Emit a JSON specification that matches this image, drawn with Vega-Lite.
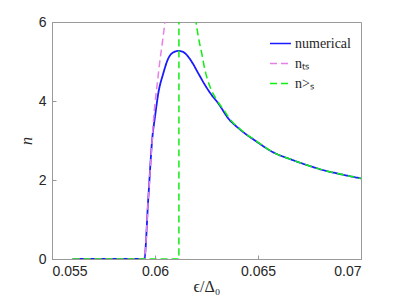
{
  "$schema": "https://vega.github.io/schema/vega-lite/v6.json",
  "width": 309,
  "height": 237,
  "autosize": "none",
  "padding": {"left": 52, "top": 22, "right": 38, "bottom": 40},
  "background": "white",
  "config": {
    "view": {"stroke": "#999999", "strokeWidth": 1},
    "axis": {
      "grid": false,
      "domainColor": "#999999",
      "tickColor": "#999999",
      "labelColor": "#262626",
      "labelFont": "Liberation Sans",
      "labelFontSize": 14,
      "titleColor": "#262626",
      "titleFont": "Liberation Serif",
      "titleFontWeight": "normal",
      "titleFontSize": 16
    }
  },
  "data": {
    "values": [
      {"x": 0.056, "n": 0, "series": "numerical"},
      {"x": 0.05948, "n": 0, "series": "numerical"},
      {"x": 0.059675, "n": 1.54, "series": "numerical"},
      {"x": 0.059869, "n": 3.06, "series": "numerical"},
      {"x": 0.06, "n": 3.6, "series": "numerical"},
      {"x": 0.06016, "n": 4.195, "series": "numerical"},
      {"x": 0.060403, "n": 4.7, "series": "numerical"},
      {"x": 0.060646, "n": 5.08, "series": "numerical"},
      {"x": 0.060888, "n": 5.23, "series": "numerical"},
      {"x": 0.061165, "n": 5.27, "series": "numerical"},
      {"x": 0.061456, "n": 5.21, "series": "numerical"},
      {"x": 0.061782, "n": 4.995, "series": "numerical"},
      {"x": 0.062102, "n": 4.7, "series": "numerical"},
      {"x": 0.062427, "n": 4.405, "series": "numerical"},
      {"x": 0.062752, "n": 4.15, "series": "numerical"},
      {"x": 0.063073, "n": 3.94, "series": "numerical"},
      {"x": 0.063558, "n": 3.56, "series": "numerical"},
      {"x": 0.064126, "n": 3.28, "series": "numerical"},
      {"x": 0.064937, "n": 2.97, "series": "numerical"},
      {"x": 0.065743, "n": 2.7, "series": "numerical"},
      {"x": 0.066553, "n": 2.53, "series": "numerical"},
      {"x": 0.067364, "n": 2.38, "series": "numerical"},
      {"x": 0.06817, "n": 2.25, "series": "numerical"},
      {"x": 0.068981, "n": 2.15, "series": "numerical"},
      {"x": 0.07, "n": 2.04, "series": "numerical"},
      {"x": 0.056, "n": 0, "series": "nₜₛ"},
      {"x": 0.05948, "n": 0, "series": "nₜₛ"},
      {"x": 0.059675, "n": 1.54, "series": "nₜₛ"},
      {"x": 0.059869, "n": 3.06, "series": "nₜₛ"},
      {"x": 0.059917, "n": 3.435, "series": "nₜₛ"},
      {"x": 0.06, "n": 3.94, "series": "nₜₛ"},
      {"x": 0.060112, "n": 4.45, "series": "nₜₛ"},
      {"x": 0.060243, "n": 5.04, "series": "nₜₛ"},
      {"x": 0.060374, "n": 5.54, "series": "nₜₛ"},
      {"x": 0.060485, "n": 6.01, "series": "nₜₛ"},
      {"x": 0.060607, "n": 6.53, "series": "nₜₛ"},
      {"x": 0.056, "n": 0, "series": "n>ₛ"},
      {"x": 0.06116, "n": 0, "series": "n>ₛ"},
      {"x": 0.061165, "n": 40, "series": "n>ₛ"},
      {"x": 0.0619, "n": 6.4, "series": "n>ₛ"},
      {"x": 0.06199, "n": 6.01, "series": "n>ₛ"},
      {"x": 0.062102, "n": 5.63, "series": "n>ₛ"},
      {"x": 0.062267, "n": 5.21, "series": "n>ₛ"},
      {"x": 0.062427, "n": 4.78, "series": "n>ₛ"},
      {"x": 0.06267, "n": 4.36, "series": "n>ₛ"},
      {"x": 0.062995, "n": 4.03, "series": "n>ₛ"},
      {"x": 0.063398, "n": 3.73, "series": "n>ₛ"},
      {"x": 0.063641, "n": 3.54, "series": "n>ₛ"},
      {"x": 0.064126, "n": 3.29, "series": "n>ₛ"},
      {"x": 0.064937, "n": 2.98, "series": "n>ₛ"},
      {"x": 0.065743, "n": 2.7, "series": "n>ₛ"},
      {"x": 0.066553, "n": 2.53, "series": "n>ₛ"},
      {"x": 0.067364, "n": 2.38, "series": "n>ₛ"},
      {"x": 0.06817, "n": 2.25, "series": "n>ₛ"},
      {"x": 0.068981, "n": 2.15, "series": "n>ₛ"},
      {"x": 0.07, "n": 2.04, "series": "n>ₛ"}
    ]
  },
  "encoding": {
    "x": {
      "field": "x", "type": "quantitative",
      "scale": {"domain": [0.055, 0.07], "nice": false, "zero": false},
      "axis": {"values": [0.055, 0.06, 0.065, 0.07], "format": ".3~f", "tickSize": -4, "labelPadding": 9, "title": "ϵ/Δ₀", "titlePadding": 0}
    },
    "y": {
      "field": "n", "type": "quantitative",
      "scale": {"domain": [0, 6], "nice": false},
      "axis": {"values": [0, 2, 4, 6], "tickSize": -4, "labelPadding": 10, "title": "n", "titleFontStyle": "italic", "titlePadding": 4}
    },
    "color": {
      "field": "series", "type": "nominal",
      "scale": {"domain": ["numerical", "nₜₛ", "n>ₛ"], "range": ["#1a1aff", "#e67fe6", "#11ee11"]},
      "legend": {
        "title": null, "orient": "top-right", "offset": 10, "padding": 0,
        "symbolType": "stroke", "symbolSize": 441, "symbolStrokeWidth": 1.6,
        "labelFont": "Liberation Serif", "labelFontSize": 14, "labelColor": "#262626",
        "labelOffset": 3, "rowPadding": 1
      }
    },
    "strokeDash": {
      "field": "series", "type": "nominal",
      "scale": {"domain": ["numerical", "nₜₛ", "n>ₛ"], "range": [[1, 0], [7, 4], [7, 4]]},
      "legend": null
    }
  },
  "layer": [
    {"transform": [{"filter": "datum.series === 'numerical'"}], "mark": {"type": "line", "clip": true, "strokeWidth": 1.8, "interpolate": "monotone"}},
    {"transform": [{"filter": "datum.series === 'nₜₛ'"}], "mark": {"type": "line", "clip": true, "strokeWidth": 1.5, "interpolate": "monotone"}},
    {"transform": [{"filter": "datum.series === 'n>ₛ'"}], "mark": {"type": "line", "clip": true, "strokeWidth": 1.5, "interpolate": "monotone"}}
  ]
}
